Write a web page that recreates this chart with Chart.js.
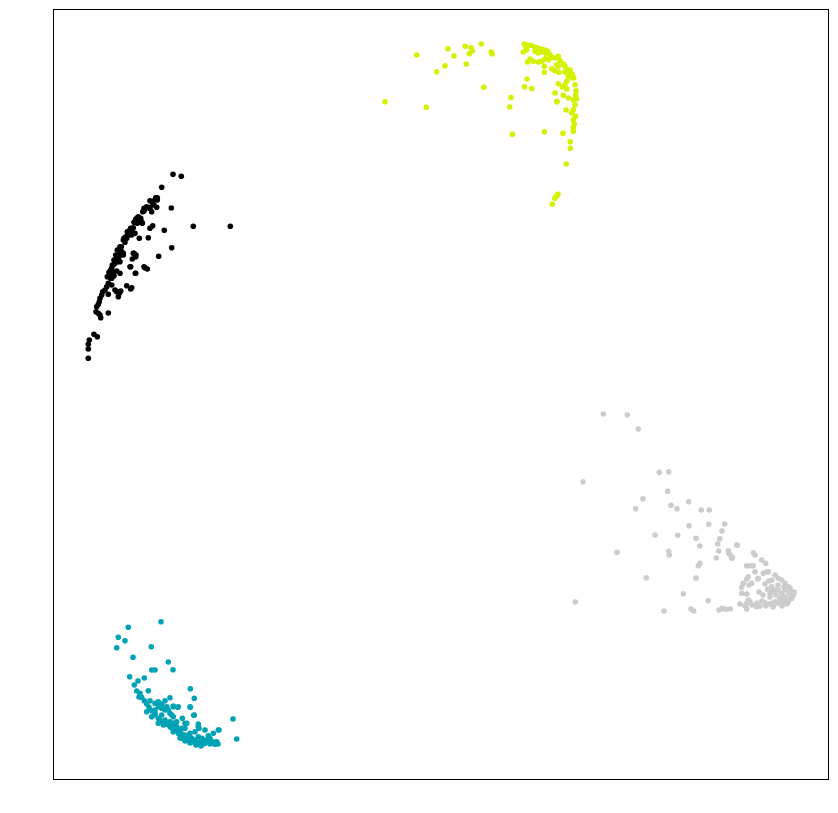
<!DOCTYPE html>
<html>
<head>
<meta charset="utf-8">
<script src="https://cdn.jsdelivr.net/npm/chart.js@4/dist/chart.umd.min.js"></script>
<style>
html,body{margin:0;padding:0;background:#fff;}
#wrap{width:838px;height:813px;position:relative;}
</style>
</head>
<body>
<div id="wrap"><canvas id="c" width="838" height="813"></canvas></div>
<script>
// Cluster values in chart units (x: 53..828, y: 9..779, y grows downward)
const seriesNames = ["black", "yellow", "gray", "teal"];

const blackPts = [
[173,174.3],[181.3,176.3],[161.7,187.3],[157.3,197.7],[155,199.7],[150,200.7],[152.7,204.3],[171.3,208],
[156.7,207.3],[150,208.3],[146.7,206.7],[144,208.3],[142.7,211.7],[151.7,211.7],[138.3,216.7],[136,219],
[140.7,218.3],[141.7,221.7],[137.3,223.3],[135,221.7],[152.7,225.7],[150,228.3],[148.3,237.7],[164.3,230.3],
[193.3,226.3],[230.3,226.3],[133.3,227.7],[130,230],[128.3,233.3],[131.7,235],[135,233.3],[139.3,238.3],
[126.7,238.3],[123.3,240],[125,242.3],[171.7,247.7],[121.3,246.7],[119.3,250],[121.7,251.7],[123.3,255],
[118.3,255],[116.7,258.3],[120,261.7],[115,263.3],[133.3,253.3],[136,255],[158.7,256.3],[130,266.7],
[135.3,273.3],[145,267.7],[147.3,269],[113.3,265],[111.7,268.3],[110,271.7],[113.3,273.3],[116.7,271],
[120,273.3],[109.3,276.7],[111.7,278.3],[108.3,283.3],[111.7,285],[106.7,286.7],[105,290],[102.7,291.7],
[101.7,295],[100,298.3],[99.3,301.7],[98.3,304.3],[126.7,285.7],[130.7,289],[131.7,287.7],[115,290],
[116.7,291.7],[119.3,293.3],[120.7,291],[108.3,294.3],[118.3,296.7],[96,311.7],[98.3,313.3],[100,315],
[96.7,306.7],[100.7,317.7],[108.3,313],[94,334.3],[97.3,336.7],[89.3,340],[88.3,344.3],[88.3,349],[88.3,358.3],
[155.7,197.7],[157.3,200],[152.3,201.7],[154,205],[149,207.7],[145.7,208.3],[144,211],[137.3,217.7],
[135.7,220],[139,221],[134,222.3],[142.3,223.3],[130.7,228.3],[127.3,231.7],[132.3,232.3],[129,235],
[124,238.3],[125.7,236.7],[120,246.7],[117.3,250],[121.3,251.7],[115.7,255],[119,256.7],[123.3,253.3],
[114,260],[117.3,261.7],[112.3,265],[110.7,270],[109,272.3],[112.3,273.3],[107.3,276.7],[110.7,278.3],
[114,275.7],[134,253.3],[132.3,259],[135.7,256.7],[144,266.7],[130.7,266.7],[135.7,273.3]
];

const yellowPts = [
[385,101.7],[416.7,55],[426.3,107.3],[436.7,71.7],[445,65.7],[448,48.7],[454,56],[465.3,46.3],[466.3,64],
[469.3,53.7],[471,47.7],[472.3,51],[481.3,44],[483.7,87.3],[491.3,52],[492,53.7],[511,97.5],[509.7,107],
[512.3,134.3],[524.5,86.7],[527,79],[531.7,88.5],[544.3,131.7],[563,133.3],[570.3,141.7],[570.3,148.3],
[566.3,164],[558,194.3],[556.7,196],[554.7,198.3],[552.3,204.3],
[524.3,44],[527.7,45.3],[531,45.3],[534.3,46.7],[538.3,48],[541.7,49.3],[545,50],[547.7,51.3],
[523.3,52],[526.7,49.7],[535,51.3],[538.3,53],[543.3,52],[546.7,54],[550,54.7],
[527.7,62],[533.3,61.3],[538.3,62],[541.7,61.3],[545,58.7],[548.3,59.7],[551.7,57.3],[555,58],[558.3,56.3],[560,60.7],
[556.7,64.7],[558.3,66.3],[563.3,64],[565,66.3],[568.3,69.7],[544.3,66.3],[551.7,68.7],[555,70.7],[559,72.3],
[565,72],[570,71.3],[571.7,74.7],[573.7,78],[568.3,76.3],[566.7,81.3],[565,84.7],[544.3,72.3],
[558.3,83.7],[562.3,87],[566.7,89],[575,84.7],[576,90.7],[575.7,94.7],[555,93],[563.3,95.3],[556.7,101.3],
[568.3,98],[573.3,99.7],[576.7,98.7],[575,104.7],[573.3,109.7],[571.7,113],[575.7,116.3],[573.3,119.7],
[574.3,124],[566,110],[573.3,131.3],[573.3,127.3],[557,102],[571.7,77.7],[572.3,74.3],[570,70],[526,47],[530,59]
];

const grayPts = [
[603.3,414],[627.3,414.7],[638.3,429],[583,481.7],[659.3,472.3],[668.7,471.7],[667.7,491.3],[643,498.7],
[635.7,508.7],[671,505.3],[677,508.7],[688.7,501.7],[701.3,510],[709.3,510],[689,525.7],[708.7,524.3],
[724.7,524],[655,535],[677.7,535.3],[696,538.3],[699.7,546],[722,531],[719.7,538.7],[717.7,544],
[718.7,551],[716.3,558],[728.3,550.7],[728.7,553.3],[732.3,557.3],[737.3,545.3],[617,552.3],[668.7,551.3],
[669.3,555],[700,563.3],[698.3,565.7],[646.3,577.7],[696,578],[683.3,593.7],[575.3,602],[708.3,600.7],
[664,611],[691,609],[693.7,611],[719,610],[722.3,608.3],[725.7,609.3],[730.3,609],[746.7,609],[746.7,603.3],
[753.3,552.7],[755,555],[761.7,560],[765.7,563.3],[746.7,565.7],[750,565.7],[753.3,565.7],[755,571.7],
[763.3,573.3],[766.7,571.7],[775,575],[778.3,578.3],[746.7,579],[751.7,583.3],[749,585],[757.7,579],
[741.7,587.3],[741.7,593.3],[746.7,594],[769,581],[771.7,586.7],[767.7,589.3],[771.7,591.7],[781.7,580],
[785,583.3],[788.3,586.7],[791.7,591.7],[793.3,595],[791.7,598.3],[788.3,601.7],[783.3,604],[778.3,603.3],
[775,601.7],[771.7,603.3],[765,602.7],[760,606],[756.7,606.7],[778.3,590],[781.7,593.3],[785,596.7],
[780,598.3],[783.3,600],[748.3,600],[750,601.7],
[775,590],[778,585],[785,590],[789,593],[786,598],[780,601],[774,604],[769,604],[762,601],[757,603],
[790,588],[784,587],[792,596],[776,595],[770,597],[763,595],[759,592],[765,584],[772,580],[740,604],
[745,606],[752,605],[768.3,571.7],[758.3,578.3],[748.3,576.7],[743.3,583.3],[770,593.3],[787,604],
[794,592],[782,606],[773,607],[766,606],[736.7,545],[730,555],[731.7,558.3]
];

const tealPts = [
[161,621.7],[128.3,627.3],[118.3,637.3],[125,640.7],[116.7,647.7],[151.3,646.7],[133,657.3],[168.3,662],
[151.7,670],[155,670],[173,669.7],[129.7,676.7],[138,681],[134.3,685],[144.3,678],[190.3,688.7],[148.3,690.7],
[136.7,691],[140,693.3],[141.7,697.3],[144.3,700.7],[146.7,704],[149,707.3],[151.7,710.7],[155,715],
[158.3,718.3],[162.3,721.7],[166.7,724.3],[170,726.7],[175,730],[180,732.7],[185,735],[190,737.3],
[195,740],[200,741.7],[205,743.3],[210,744],[215,744.3],[194.3,698.3],[170,697.7],[165,700.7],[161.7,704],
[166.7,706.7],[150,700.7],[158.3,706.7],[155,710],[173.3,706.7],[177.7,707.3],[190.3,707.3],[165,710],
[170,713.3],[173.3,716.7],[193.7,715.3],[182.3,718.3],[186.7,723.3],[185,728.3],[198.3,724],[199,728.3],
[233,719],[219,730],[208.3,735.7],[236.7,739],[161.7,715],[165,720],[170,721.7],[173.3,723.3],[176.7,726.7],
[178.3,730],[181.7,734],[186.7,736],[191.7,738.3],[198.3,736.7],[205,740],[211.7,741.7],[216.7,741.7],
[146.7,711.7],[151.7,716.7],[158.3,723.3],[163.3,725],
[172,728],[177,731],[183,736],[188,740],[193,742],[198,743],[203,744],[208,742],[213,742],[218,744],
[180,738],[185,741],[190,743],[196,745],[201,746],[168,724],[160,720],[139,697],[218.3,730],[213.3,733.3],
[205,730],[195,731.7],[190,733.3],[181.7,728.3],[178.3,733.3],[173.3,731.7],[176.7,721.7],[185,723.3],
[171.7,715],[168.3,710],[161.7,708.3],[155,713.3],[155,703.3],[158.3,701.7],[173.3,706],[178.3,706.7],
[190,706.7],[194.3,715],[198.3,726.7],[201.7,738.3],[206.7,741.7],[211.7,742.7],[210,738.3],[188.3,740],[181.7,738.3]
];

const colors = { black: "#000000", yellow: "#d4f200", gray: "#cccccc", teal: "#00a2b5" };
const ptsByName = { black: blackPts, yellow: yellowPts, gray: grayPts, teal: tealPts };

const frame = {
  id: "frame",
  afterDraw(chart) {
    const a = chart.chartArea, ctx = chart.ctx;
    ctx.save();
    ctx.strokeStyle = "#000";
    ctx.lineWidth = 1;
    ctx.strokeRect(Math.round(a.left) + 0.5, Math.round(a.top) + 0.5,
                   Math.round(a.right - a.left), Math.round(a.bottom - a.top));
    ctx.restore();
  }
};

new Chart(document.getElementById("c"), {
  type: "scatter",
  data: {
    datasets: seriesNames.map(n => ({
      label: n,
      data: ptsByName[n].map(p => ({ x: p[0], y: p[1] })),
      backgroundColor: colors[n],
      borderColor: colors[n],
      borderWidth: 0,
      pointRadius: 2.8,
      pointHoverRadius: 2.8
    }))
  },
  options: {
    responsive: false,
    animation: false,
    layout: { padding: { left: 53, right: 10, top: 9, bottom: 34 } },
    plugins: { legend: { display: false }, tooltip: { enabled: false } },
    scales: {
      x: { type: "linear", min: 53, max: 828, display: false },
      y: { type: "linear", min: 9, max: 779, reverse: true, display: false }
    }
  },
  plugins: [frame]
});
</script>
</body>
</html>
